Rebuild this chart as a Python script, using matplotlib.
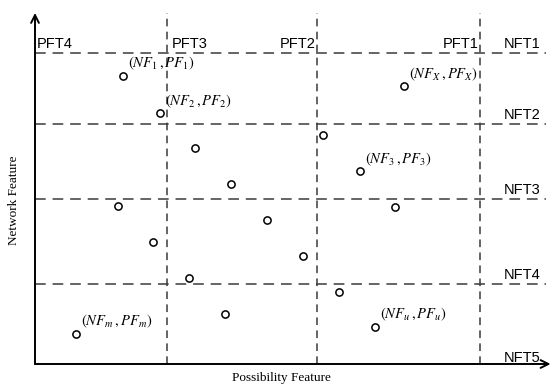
import matplotlib
matplotlib.use("Agg")
import matplotlib.pyplot as plt

plt.rcParams["mathtext.fontset"] = "stix"

# Feature values (both axes on a 0-100 scale)
possibility = [17.1, 24.3, 31.1, 38.1, 56.0, 63.2, 71.8, 70.0, 16.1, 23.0,
               30.0, 37.0, 45.1, 52.1, 59.1, 66.1, 8.0]
network = [82.3, 71.7, 61.7, 51.4, 65.4, 55.1, 79.4, 44.9, 45.1, 34.9,
           24.6, 14.3, 41.1, 30.9, 20.6, 10.6, 8.6]

# Thresholds
pft_names = ["PFT4", "PFT3", "PFT2", "PFT1"]
pft_values = [0.0, 25.7, 54.9, 86.6]
nft_names = ["NFT1", "NFT2", "NFT3", "NFT4", "NFT5"]
nft_values = [88.9, 68.6, 47.1, 22.9, 0.0]

# Annotated points: (label, point index)
point_labels = [
    (r"$(NF_1\,,PF_1)$", 0),
    (r"$(NF_2\,,PF_2)$", 1),
    (r"$(NF_X\,,PF_X)$", 6),
    (r"$(NF_3\,,PF_3)$", 5),
    (r"$(NF_m\,,PF_m)$", 16),
    (r"$(NF_u\,,PF_u)$", 15),
]

W, H = 552, 386
fig = plt.figure(figsize=(W / 100, H / 100), dpi=100)
ax = fig.add_axes([35 / W, 22 / H, 514 / W, 350 / H])
ax.set_xlim(0, 100)
ax.set_ylim(0, 100)
ax.axis("off")

dash_col = "#3a3a3a"
# horizontal threshold lines
for v in nft_values[:-1]:
    ax.plot([0, 99.4], [v, v], color=dash_col, lw=1.1,
            dashes=(7, 4.5), clip_on=False)
# vertical threshold lines
for v in pft_values[1:]:
    ax.plot([v, v], [0, 100.3], color=dash_col, lw=1.1,
            dashes=(5, 3.5), clip_on=False)

# axes with arrow heads
arrow = dict(arrowstyle="->", lw=1.4, color="black",
             mutation_scale=14, shrinkA=0, shrinkB=0)
ax.annotate("", xy=(0, 100.3), xytext=(0, 0), arrowprops=arrow,
            annotation_clip=False)
ax.annotate("", xy=(100.3, 0), xytext=(0, 0), arrowprops=arrow,
            annotation_clip=False)

ax.plot(possibility, network, linestyle="none", marker="o", markersize=5.2,
        markerfacecolor="white", markeredgecolor="black",
        markeredgewidth=1.1, clip_on=False, zorder=5)

lab_font = dict(family="Liberation Sans", fontsize=10.5, color="black")
# PFT labels above the NFT1 line
pft_x = [0.4, 26.7, 47.6, 79.4]
for name, x in zip(pft_names, pft_x):
    ax.text(x, nft_values[0] + 0.6, name, ha="left", va="bottom", **lab_font)
for name, y in zip(nft_names, nft_values):
    dy = 0.6 if y > 0 else -0.4
    ax.text(91.2, y + dy, name, ha="left", va="bottom", **lab_font)

for text, i in point_labels:
    ax.text(possibility[i] + 1.0, network[i] + 1.0, text, ha="left",
            va="bottom", fontsize=10.5, color="black")

fig.text(281 / W, 1 - 378 / H, "Possibility Feature", ha="center",
         va="center", family="Liberation Serif", fontsize=9.5)
fig.text(14 / W, 1 - 200 / H, "Network Feature", ha="center",
         va="center", rotation=90, family="Liberation Serif", fontsize=9.5)

fig.savefig("out.png", dpi=100)
